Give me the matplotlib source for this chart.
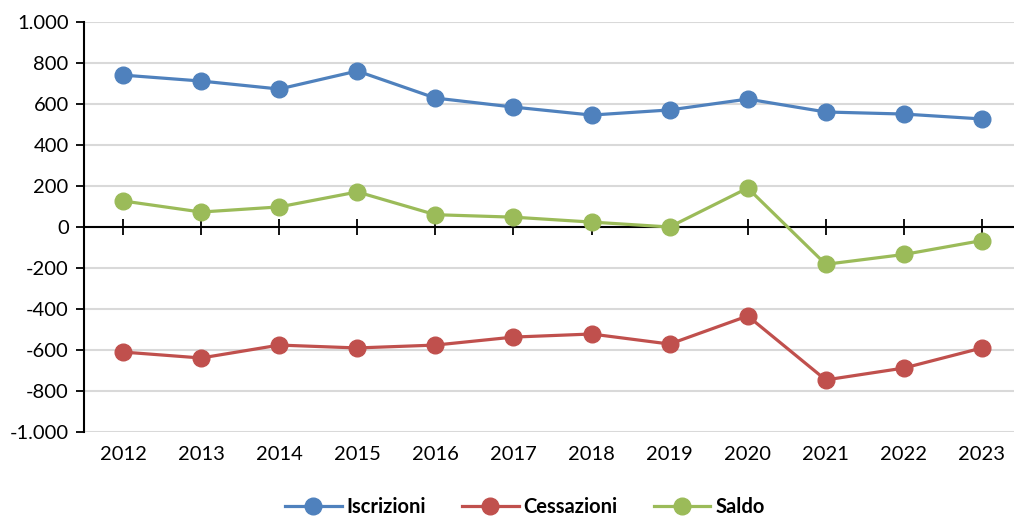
import matplotlib.pyplot as plt
from matplotlib.ticker import FuncFormatter
from matplotlib.transforms import blended_transform_factory

plt.rcParams['font.family'] = ['Lato', 'DejaVu Sans']

anni = ["2012", "2013", "2014", "2015", "2016", "2017",
        "2018", "2019", "2020", "2021", "2022", "2023"]
iscrizioni = [741, 712, 673, 761, 629, 585, 546, 571, 624, 561, 551, 527]
cessazioni = [-610, -639, -576, -590, -576, -537, -522, -571, -434, -746, -688, -590]
saldo = [127, 73, 98, 171, 60, 48, 24, 0, 190, -182, -134, -66]

fig = plt.figure(figsize=(10.14, 5.17), dpi=100)
ax = fig.add_axes([84 / 1014, 1 - 432 / 517, (1021 - 84) / 1014, (432 - 22) / 517])

x = list(range(len(anni)))
serie = [("Iscrizioni", iscrizioni, "#4F81BD"),
         ("Cessazioni", cessazioni, "#C0504D"),
         ("Saldo", saldo, "#9BBB59")]
for nome, valori, colore in serie:
    ax.plot(x, valori, color=colore, lw=2.3, marker="o", ms=12,
            label=nome, zorder=3, clip_on=False)

ax.set_xlim(-0.5, len(anni) - 0.5)
ax.set_ylim(-1000, 1000)
ax.set_yticks(range(-1000, 1001, 200))
ax.yaxis.set_major_formatter(FuncFormatter(lambda v, p: f"{int(v):,}".replace(",", ".")))
ax.grid(axis="y", color="#d9d9d9", lw=1.5)
ax.set_axisbelow(True)

for s in ["top", "right"]:
    ax.spines[s].set_visible(False)
ax.spines["left"].set_color("black")
ax.spines["left"].set_linewidth(1.5)
ax.spines["bottom"].set_position(("data", 0))
ax.spines["bottom"].set_linewidth(1.5)
ax.spines["bottom"].set_zorder(2)

ax.set_xticks(x)
ax.set_xticklabels([])
ax.tick_params(axis="x", direction="inout", length=11, width=1.3)
ax.tick_params(axis="y", direction="out", length=6, width=1.3, labelsize=14.5, pad=5)

trans = blended_transform_factory(ax.transData, ax.transAxes)
for xi, a in zip(x, anni):
    ax.text(xi, -0.055, a, transform=trans, ha="center", va="center", fontsize=14.5)

fig.legend(loc="center", bbox_to_anchor=(525 / 1014, 1 - 507 / 517), ncol=3,
           frameon=False, prop={"weight": "bold", "size": 14.5},
           handlelength=2.8, columnspacing=1.8, handletextpad=0.25)

fig.savefig("out.png", dpi=100)
